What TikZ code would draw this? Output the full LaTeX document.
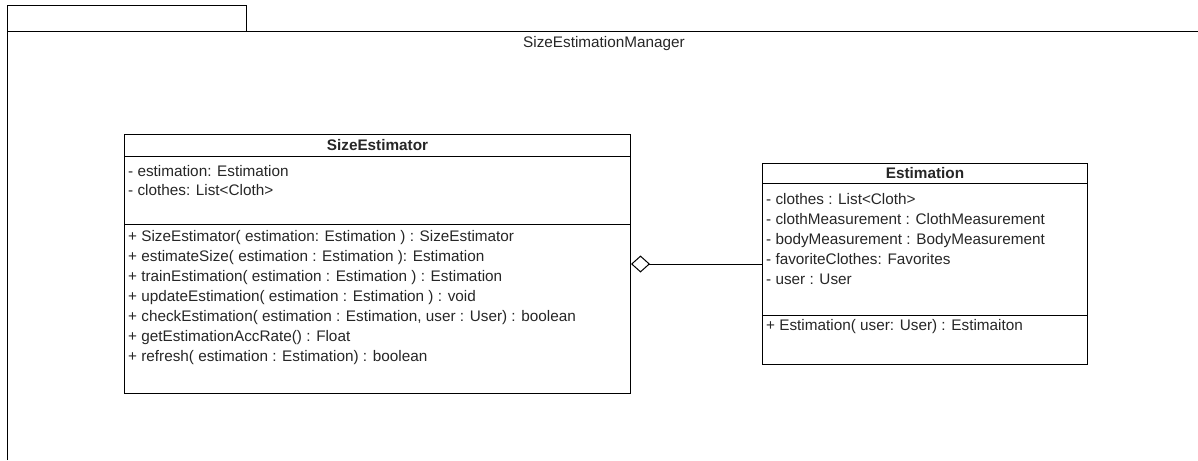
\documentclass[tikz,border=0pt]{standalone}
\usepackage{fontspec}
\setmainfont{Liberation Sans}
\usetikzlibrary{arrows.meta,positioning}

\tikzset{
  classbox/.style={draw=black, line width=1pt, inner sep=0pt, anchor=north west},
  classname/.style={font=\fontsize{15.3}{18}\selectfont\bfseries, text=black!85, inner sep=0pt},
  member/.style={font=\fontsize{15.3}{18}\selectfont, text=black!85, inner sep=0pt, anchor=base west},
  aggregation/.style={line width=1pt, {Diamond[open,length=19pt,width=17pt]}-},
}

\begin{document}
\begin{tikzpicture}[x=1pt, y=-1pt]
  \useasboundingbox (0,0) rectangle (1198,460);

  % package frame (runs off the page to the right and bottom)
  \draw[line width=1pt] (7,460) -- (7,6) -- (246,6) -- (246,32);
  \draw[line width=1pt] (7,32) -- (1198,32);
  \node[font=\fontsize{15.3}{18}\selectfont, text=black!85] (pkgname) at (604,44) {SizeEstimationManager};

  % SizeEstimator
  \node[classbox, minimum width=506pt, minimum height=259pt] (sizeest) at (124,134) {};
  \node[classname] (sizeesthead) at ([yshift=-11pt]sizeest.north) {SizeEstimator};
  \draw[line width=1pt] ([yshift=-22pt]sizeest.north west) -- ([yshift=-22pt]sizeest.north east);
  \draw[line width=1pt] ([yshift=-90pt]sizeest.north west) -- ([yshift=-90pt]sizeest.north east);
  \foreach \txt [count=\i from 0] in {- estimation: Estimation, - clothes: List<Cloth>}
    \node[member] at (128,{176+19*\i}) {\txt};
  \foreach \txt [count=\i from 0] in {
      {+ SizeEstimator( estimation: Estimation ) : SizeEstimator},
      {+ estimateSize( estimation : Estimation ): Estimation},
      {+ trainEstimation( estimation : Estimation ) : Estimation},
      {+ updateEstimation( estimation : Estimation ) : void},
      {+ checkEstimation( estimation : Estimation, user : User) : boolean},
      {+ getEstimationAccRate() : Float},
      {+ refresh( estimation : Estimation) : boolean}}
    \node[member] at (128,{241+20*\i}) {\txt};

  % Estimation
  \node[classbox, minimum width=325pt, minimum height=201pt] (estim) at (762,163) {};
  \node[classname] (estimhead) at ([yshift=-10pt]estim.north) {Estimation};
  \draw[line width=1pt] ([yshift=-20pt]estim.north west) -- ([yshift=-20pt]estim.north east);
  \draw[line width=1pt] ([yshift=-152pt]estim.north west) -- ([yshift=-152pt]estim.north east);
  \foreach \txt [count=\i from 0] in {
      - clothes : List<Cloth>,
      - clothMeasurement : ClothMeasurement,
      - bodyMeasurement : BodyMeasurement,
      - favoriteClothes: Favorites,
      - user : User}
    \node[member] at (766,{204+20*\i}) {\txt};
  \node[member] at (766,330) {+ Estimation( user: User) : Estimaiton};

  % aggregation
  \draw[aggregation] (sizeest.east) -- (estim.west);
\end{tikzpicture}
\end{document}
